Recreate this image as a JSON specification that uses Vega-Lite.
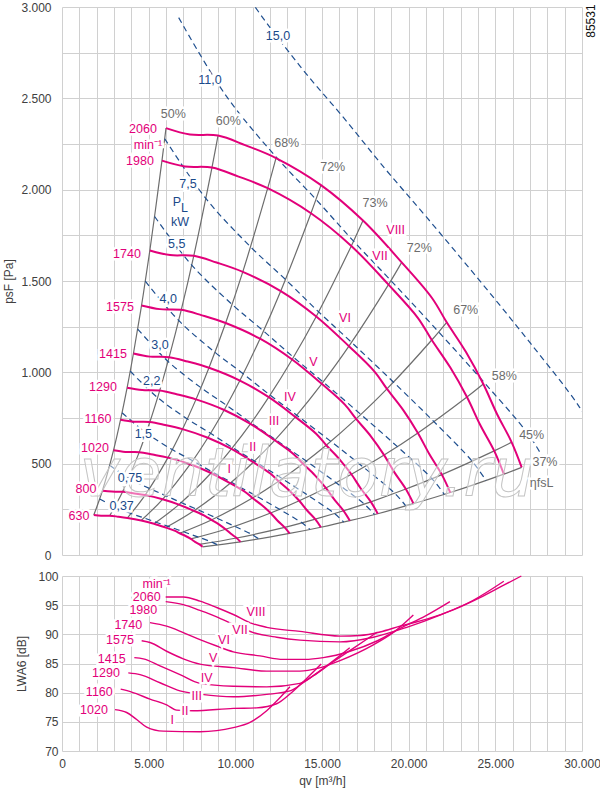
{
  "$schema": "https://vega.github.io/schema/vega-lite/v6.json",
  "padding": {"left": 2, "top": 1, "right": 0, "bottom": 10},
  "bounds": "flush",
  "spacing": 21,
  "config": {
    "font": "Liberation Sans",
    "view": {"stroke": null},
    "axis": {
      "gridColor": "#d0d0d0", "gridWidth": 1, "domain": false, "ticks": false,
      "labelColor": "#404040", "titleColor": "#404040", "labelFontSize": 12,
      "titleFontSize": 12, "titleFontWeight": "normal", "labelFlush": false, "labelOverlap": false
    }
  },
  "datasets": {
    "curves": [
      {"n":2060,"k":1,"q":6000,"p":2337},{"n":2060,"k":2,"q":7385,"p":2302},{"n":2060,"k":3,"q":9000,"p":2296},{"n":2060,"k":4,"q":10558,"p":2244},{"n":2060,"k":5,"q":12346,"p":2173},{"n":2060,"k":6,"q":14942,"p":2025},{"n":2060,"k":7,"q":17365,"p":1831},{"n":2060,"k":8,"q":19597,"p":1602},{"n":2060,"k":9,"q":21345,"p":1407},{"n":2060,"k":10,"q":22194,"p":1274},{"n":2060,"k":11,"q":23307,"p":1111},{"n":2060,"k":12,"q":24306,"p":936},{"n":2060,"k":13,"q":25096,"p":772},{"n":2060,"k":14,"q":25943,"p":617},{"n":2060,"k":15,"q":26520,"p":480},
      {"n":1980,"k":1,"q":5767,"p":2159},{"n":1980,"k":2,"q":7098,"p":2127},{"n":1980,"k":3,"q":8651,"p":2121},{"n":1980,"k":4,"q":10148,"p":2073},{"n":1980,"k":5,"q":11867,"p":2008},{"n":1980,"k":6,"q":14362,"p":1871},{"n":1980,"k":7,"q":16691,"p":1692},{"n":1980,"k":8,"q":18837,"p":1480},{"n":1980,"k":9,"q":20517,"p":1300},{"n":1980,"k":10,"q":21333,"p":1177},{"n":1980,"k":11,"q":22403,"p":1026},{"n":1980,"k":12,"q":23363,"p":865},{"n":1980,"k":13,"q":24122,"p":713},{"n":1980,"k":14,"q":24936,"p":570},{"n":1980,"k":15,"q":25491,"p":443},
      {"n":1740,"k":1,"q":5068,"p":1667},{"n":1740,"k":2,"q":6238,"p":1642},{"n":1740,"k":3,"q":7602,"p":1638},{"n":1740,"k":4,"q":8918,"p":1601},{"n":1740,"k":5,"q":10429,"p":1550},{"n":1740,"k":6,"q":12621,"p":1445},{"n":1740,"k":7,"q":14668,"p":1306},{"n":1740,"k":8,"q":16554,"p":1143},{"n":1740,"k":9,"q":18030,"p":1004},{"n":1740,"k":10,"q":18747,"p":909},{"n":1740,"k":11,"q":19688,"p":793},{"n":1740,"k":12,"q":20531,"p":668},{"n":1740,"k":13,"q":21199,"p":551},{"n":1740,"k":14,"q":21914,"p":440},{"n":1740,"k":15,"q":22401,"p":342},
      {"n":1575,"k":1,"q":4588,"p":1366},{"n":1575,"k":2,"q":5647,"p":1346},{"n":1575,"k":3,"q":6881,"p":1342},{"n":1575,"k":4,"q":8073,"p":1312},{"n":1575,"k":5,"q":9440,"p":1270},{"n":1575,"k":6,"q":11425,"p":1184},{"n":1575,"k":7,"q":13277,"p":1070},{"n":1575,"k":8,"q":14984,"p":937},{"n":1575,"k":9,"q":16320,"p":823},{"n":1575,"k":10,"q":16970,"p":745},{"n":1575,"k":11,"q":17821,"p":650},{"n":1575,"k":12,"q":18584,"p":547},{"n":1575,"k":13,"q":19188,"p":451},{"n":1575,"k":14,"q":19836,"p":361},{"n":1575,"k":15,"q":20277,"p":281},
      {"n":1415,"k":1,"q":4121,"p":1103},{"n":1415,"k":2,"q":5073,"p":1086},{"n":1415,"k":3,"q":6182,"p":1083},{"n":1415,"k":4,"q":7252,"p":1059},{"n":1415,"k":5,"q":8480,"p":1025},{"n":1415,"k":6,"q":10264,"p":955},{"n":1415,"k":7,"q":11928,"p":864},{"n":1415,"k":8,"q":13461,"p":756},{"n":1415,"k":9,"q":14662,"p":664},{"n":1415,"k":10,"q":15245,"p":601},{"n":1415,"k":11,"q":16010,"p":524},{"n":1415,"k":12,"q":16696,"p":442},{"n":1415,"k":13,"q":17238,"p":364},{"n":1415,"k":14,"q":17820,"p":291},{"n":1415,"k":15,"q":18217,"p":226},
      {"n":1290,"k":1,"q":3757,"p":916},{"n":1290,"k":2,"q":4624,"p":903},{"n":1290,"k":3,"q":5636,"p":900},{"n":1290,"k":4,"q":6611,"p":880},{"n":1290,"k":5,"q":7731,"p":852},{"n":1290,"k":6,"q":9357,"p":794},{"n":1290,"k":7,"q":10874,"p":718},{"n":1290,"k":8,"q":12272,"p":628},{"n":1290,"k":9,"q":13366,"p":552},{"n":1290,"k":10,"q":13898,"p":500},{"n":1290,"k":11,"q":14595,"p":436},{"n":1290,"k":12,"q":15220,"p":367},{"n":1290,"k":13,"q":15715,"p":303},{"n":1290,"k":14,"q":16246,"p":242},{"n":1290,"k":15,"q":16607,"p":188},
      {"n":1160,"k":1,"q":3379,"p":741},{"n":1160,"k":2,"q":4158,"p":730},{"n":1160,"k":3,"q":5068,"p":728},{"n":1160,"k":4,"q":5945,"p":712},{"n":1160,"k":5,"q":6952,"p":689},{"n":1160,"k":6,"q":8414,"p":642},{"n":1160,"k":7,"q":9778,"p":581},{"n":1160,"k":8,"q":11035,"p":508},{"n":1160,"k":9,"q":12019,"p":446},{"n":1160,"k":10,"q":12497,"p":404},{"n":1160,"k":11,"q":13124,"p":352},{"n":1160,"k":12,"q":13687,"p":297},{"n":1160,"k":13,"q":14132,"p":245},{"n":1160,"k":14,"q":14609,"p":196},{"n":1160,"k":15,"q":14933,"p":152},
      {"n":1020,"k":1,"q":2971,"p":573},{"n":1020,"k":2,"q":3656,"p":564},{"n":1020,"k":3,"q":4456,"p":563},{"n":1020,"k":4,"q":5227,"p":550},{"n":1020,"k":5,"q":6113,"p":533},{"n":1020,"k":6,"q":7398,"p":497},{"n":1020,"k":7,"q":8597,"p":449},{"n":1020,"k":8,"q":9703,"p":393},{"n":1020,"k":9,"q":10568,"p":345},{"n":1020,"k":10,"q":10988,"p":312},{"n":1020,"k":11,"q":11539,"p":272},{"n":1020,"k":12,"q":12034,"p":230},{"n":1020,"k":13,"q":12425,"p":189},{"n":1020,"k":14,"q":12844,"p":151},{"n":1020,"k":15,"q":13130,"p":118},
      {"n":800,"k":1,"q":2330,"p":352},{"n":800,"k":2,"q":2868,"p":347},{"n":800,"k":3,"q":3495,"p":346},{"n":800,"k":4,"q":4100,"p":338},{"n":800,"k":5,"q":4794,"p":328},{"n":800,"k":6,"q":5802,"p":305},{"n":800,"k":7,"q":6743,"p":276},{"n":800,"k":8,"q":7610,"p":242},{"n":800,"k":9,"q":8288,"p":212},{"n":800,"k":10,"q":8618,"p":192},{"n":800,"k":11,"q":9050,"p":168},{"n":800,"k":12,"q":9438,"p":141},{"n":800,"k":13,"q":9745,"p":116},{"n":800,"k":14,"q":10074,"p":93},{"n":800,"k":15,"q":10298,"p":72},
      {"n":630,"k":1,"q":1835,"p":219},{"n":630,"k":2,"q":2258,"p":215},{"n":630,"k":3,"q":2752,"p":215},{"n":630,"k":4,"q":3229,"p":210},{"n":630,"k":5,"q":3775,"p":203},{"n":630,"k":6,"q":4569,"p":189},{"n":630,"k":7,"q":5310,"p":171},{"n":630,"k":8,"q":5993,"p":150},{"n":630,"k":9,"q":6527,"p":132},{"n":630,"k":10,"q":6787,"p":119},{"n":630,"k":11,"q":7127,"p":104},{"n":630,"k":12,"q":7433,"p":88},{"n":630,"k":13,"q":7674,"p":72},{"n":630,"k":14,"q":7933,"p":58},{"n":630,"k":15,"q":8110,"p":45}
    ],
    "power": [
      {"P":0.37,"q":2173,"p":307},{"P":0.37,"q":3043,"p":263},{"P":0.37,"q":3990,"p":227},{"P":0.37,"q":4729,"p":203},{"P":0.37,"q":5430,"p":179},{"P":0.37,"q":6126,"p":157},{"P":0.37,"q":7013,"p":127},{"P":0.37,"q":7870,"p":98},{"P":0.37,"q":8681,"p":69},{"P":0.37,"q":8972,"p":55},
      {"P":0.75,"q":2750,"p":491},{"P":0.75,"q":3851,"p":420},{"P":0.75,"q":5050,"p":364},{"P":0.75,"q":5984,"p":325},{"P":0.75,"q":6871,"p":287},{"P":0.75,"q":7753,"p":251},{"P":0.75,"q":8878,"p":204},{"P":0.75,"q":9961,"p":157},{"P":0.75,"q":10984,"p":111},{"P":0.75,"q":11353,"p":88},
      {"P":1.5,"q":3465,"p":779},{"P":1.5,"q":4853,"p":668},{"P":1.5,"q":6362,"p":577},{"P":1.5,"q":7540,"p":516},{"P":1.5,"q":8658,"p":455},{"P":1.5,"q":9769,"p":398},{"P":1.5,"q":11186,"p":324},{"P":1.5,"q":12549,"p":250},{"P":1.5,"q":13841,"p":176},{"P":1.5,"q":14302,"p":140},
      {"P":2.2,"q":3937,"p":1006},{"P":2.2,"q":5513,"p":862},{"P":2.2,"q":7229,"p":745},{"P":2.2,"q":8568,"p":666},{"P":2.2,"q":9837,"p":588},{"P":2.2,"q":11100,"p":514},{"P":2.2,"q":12708,"p":418},{"P":2.2,"q":14258,"p":322},{"P":2.2,"q":15724,"p":227},{"P":2.2,"q":16251,"p":180},
      {"P":3.0,"q":4366,"p":1237},{"P":3.0,"q":6114,"p":1060},{"P":3.0,"q":8016,"p":916},{"P":3.0,"q":9502,"p":819},{"P":3.0,"q":10909,"p":723},{"P":3.0,"q":12309,"p":632},{"P":3.0,"q":14093,"p":514},{"P":3.0,"q":15811,"p":396},{"P":3.0,"q":17436,"p":279},{"P":3.0,"q":18023,"p":222},
      {"P":4.0,"q":4805,"p":1499},{"P":4.0,"q":6729,"p":1284},{"P":4.0,"q":8822,"p":1110},{"P":4.0,"q":10456,"p":992},{"P":4.0,"q":12006,"p":875},{"P":4.0,"q":13545,"p":765},{"P":4.0,"q":15509,"p":622},{"P":4.0,"q":17401,"p":480},{"P":4.0,"q":19193,"p":338},{"P":4.0,"q":19834,"p":269},
      {"P":5.5,"q":5343,"p":1853},{"P":5.5,"q":7483,"p":1587},{"P":5.5,"q":9811,"p":1372},{"P":5.5,"q":11628,"p":1226},{"P":5.5,"q":13352,"p":1083},{"P":5.5,"q":15064,"p":947},{"P":5.5,"q":17247,"p":769},{"P":5.5,"q":19350,"p":593},{"P":5.5,"q":21341,"p":418},{"P":5.5,"q":22057,"p":332},
      {"P":7.5,"q":5925,"p":2279},{"P":7.5,"q":8298,"p":1952},{"P":7.5,"q":10879,"p":1687},{"P":7.5,"q":12895,"p":1508},{"P":7.5,"q":14805,"p":1331},{"P":7.5,"q":16705,"p":1164},{"P":7.5,"q":19125,"p":946},{"P":7.5,"q":21457,"p":730},{"P":7.5,"q":23665,"p":513},{"P":7.5,"q":24459,"p":408},
      {"P":11.0,"q":6731,"p":2942},{"P":11.0,"q":9428,"p":2519},{"P":11.0,"q":12361,"p":2178},{"P":11.0,"q":14651,"p":1947},{"P":11.0,"q":16821,"p":1718},{"P":11.0,"q":18978,"p":1502},{"P":11.0,"q":21730,"p":1221},{"P":11.0,"q":24379,"p":942},{"P":11.0,"q":26887,"p":663},{"P":11.0,"q":27790,"p":527},
      {"P":15.0,"q":7465,"p":3617},{"P":15.0,"q":10454,"p":3098},{"P":15.0,"q":13708,"p":2679},{"P":15.0,"q":16246,"p":2394},{"P":15.0,"q":18653,"p":2113},{"P":15.0,"q":21045,"p":1848},{"P":15.0,"q":24096,"p":1502},{"P":15.0,"q":27036,"p":1158},{"P":15.0,"q":29816,"p":815},{"P":15.0,"q":30817,"p":648}
    ],
    "toplabels": [
      {"t":"2060","q":4673,"p":2332,"g":"spd"},{"t":"min⁻¹","q":4961,"p":2244,"g":"spd"},{"t":"1980","q":4500,"p":2157,"g":"spd"},{"t":"1740","q":3750,"p":1648,"g":"spd"},{"t":"1575","q":3346,"p":1358,"g":"spd"},{"t":"1415","q":2942,"p":1100,"g":"spd"},{"t":"1290","q":2365,"p":920,"g":"spd"},{"t":"1160","q":2077,"p":744,"g":"spd"},{"t":"1020","q":1904,"p":586,"g":"spd"},{"t":"800","q":1385,"p":361,"g":"spd"},{"t":"630","q":981,"p":213,"g":"spd"},
      {"t":"50%","q":6421,"p":2414,"g":"eff"},{"t":"60%","q":9594,"p":2377,"g":"eff"},{"t":"68%","q":12963,"p":2255,"g":"eff"},{"t":"72%","q":15617,"p":2126,"g":"eff"},{"t":"73%","q":18057,"p":1925,"g":"eff"},{"t":"72%","q":20613,"p":1679,"g":"eff"},{"t":"67%","q":23290,"p":1341,"g":"eff"},{"t":"58%","q":25516,"p":981,"g":"eff"},{"t":"45%","q":27097,"p":659,"g":"eff"},{"t":"37%","q":27864,"p":507,"g":"eff"},{"t":"ηfsL","q":27674,"p":394,"g":"effs"},
      {"t":"15,0","q":12461,"p":2841,"g":"pow"},{"t":"11,0","q":8538,"p":2600,"g":"pow"},{"t":"7,5","q":7269,"p":2031,"g":"pow"},{"t":"P","q":6634,"p":1932,"g":"pow"},{"t":"L","q":7060,"p":1900,"g":"pows"},{"t":"kW","q":6807,"p":1821,"g":"pow"},{"t":"5,5","q":6615,"p":1702,"g":"pow"},{"t":"4,0","q":6133,"p":1401,"g":"pow"},{"t":"3,0","q":5654,"p":1151,"g":"pow"},{"t":"2,2","q":5175,"p":954,"g":"pow"},{"t":"1,5","q":4692,"p":662,"g":"pow"},{"t":"0,75","q":3923,"p":420,"g":"pow"},{"t":"0,37","q":3442,"p":267,"g":"pow"},
      {"t":"VIII","q":19251,"p":1781,"g":"spd"},{"t":"VII","q":18346,"p":1635,"g":"spd"},{"t":"VI","q":16326,"p":1296,"g":"spd"},{"t":"V","q":14498,"p":1055,"g":"spd"},{"t":"IV","q":13153,"p":863,"g":"spd"},{"t":"III","q":12230,"p":735,"g":"spd"},{"t":"II","q":11001,"p":590,"g":"spd"},{"t":"I","q":9652,"p":471,"g":"spd"}
    ],
    "noise": [
      {"n":2060,"q":5982,"L":96.4},{"n":2060,"q":6998,"L":96.4},{"n":2060,"q":7961,"L":95.7},{"n":2060,"q":8925,"L":94.6},{"n":2060,"q":9883,"L":93.4},{"n":2060,"q":11036,"L":91.8},{"n":2060,"q":11809,"L":91.2},{"n":2060,"q":13731,"L":90.5},{"n":2060,"q":16038,"L":89.7},{"n":2060,"q":17192,"L":89.8},{"n":2060,"q":18346,"L":90.4},{"n":2060,"q":19499,"L":91.4},{"n":2060,"q":21040,"L":92.6},{"n":2060,"q":22574,"L":94.2},{"n":2060,"q":24114,"L":96.3},{"n":2060,"q":25400,"L":98.3},{"n":2060,"q":26500,"L":100},
      {"n":1980,"q":5982,"L":95.6},{"n":1980,"q":6998,"L":95.1},{"n":1980,"q":7961,"L":94.1},{"n":1980,"q":8925,"L":93.0},{"n":1980,"q":9883,"L":91.7},{"n":1980,"q":11036,"L":90.3},{"n":1980,"q":12385,"L":89.5},{"n":1980,"q":13731,"L":89.0},{"n":1980,"q":16038,"L":88.7},{"n":1980,"q":17960,"L":89.5},{"n":1980,"q":19887,"L":91.2},{"n":1980,"q":21807,"L":93.3},{"n":1980,"q":23700,"L":95.8},{"n":1980,"q":25490,"L":99.1},
      {"n":1740,"q":5077,"L":92.0},{"n":1740,"q":6037,"L":91.4},{"n":1740,"q":6998,"L":90.3},{"n":1740,"q":7961,"L":89.1},{"n":1740,"q":8925,"L":88.0},{"n":1740,"q":9883,"L":87.0},{"n":1740,"q":11422,"L":86.3},{"n":1740,"q":12769,"L":85.7},{"n":1740,"q":14000,"L":85.7},{"n":1740,"q":15075,"L":86.0},{"n":1740,"q":16615,"L":87.1},{"n":1740,"q":18200,"L":88.9},{"n":1740,"q":19499,"L":91.0},{"n":1740,"q":21000,"L":93.2},{"n":1740,"q":22380,"L":95.6},
      {"n":1575,"q":4596,"L":88.9},{"n":1575,"q":5077,"L":88.6},{"n":1575,"q":6037,"L":87.1},{"n":1575,"q":6998,"L":85.8},{"n":1575,"q":7961,"L":84.9},{"n":1575,"q":9883,"L":84.3},{"n":1575,"q":11809,"L":83.7},{"n":1575,"q":13731,"L":83.7},{"n":1575,"q":14800,"L":84.2},{"n":1575,"q":16038,"L":85.5},{"n":1575,"q":17960,"L":88.2},{"n":1575,"q":19200,"L":90.5},{"n":1575,"q":20270,"L":93.3},
      {"n":1415,"q":4173,"L":86.0},{"n":1415,"q":4692,"L":85.8},{"n":1415,"q":5654,"L":84.6},{"n":1415,"q":6807,"L":83.1},{"n":1415,"q":7961,"L":81.6},{"n":1415,"q":9883,"L":81.1},{"n":1415,"q":11809,"L":81.0},{"n":1415,"q":13731,"L":81.6},{"n":1415,"q":14500,"L":82.9},{"n":1415,"q":15500,"L":85.0},{"n":1415,"q":16800,"L":87.6},{"n":1415,"q":18200,"L":90.4},
      {"n":1290,"q":3825,"L":83.4},{"n":1290,"q":4500,"L":83.1},{"n":1290,"q":5654,"L":81.7},{"n":1290,"q":6807,"L":80.3},{"n":1290,"q":8059,"L":79.7},{"n":1290,"q":9883,"L":79.3},{"n":1290,"q":11809,"L":79.7},{"n":1290,"q":13153,"L":80.3},{"n":1290,"q":14000,"L":81.9},{"n":1290,"q":15000,"L":84.0},{"n":1290,"q":15800,"L":85.8},{"n":1290,"q":16600,"L":87.7},
      {"n":1160,"q":3385,"L":80.6},{"n":1160,"q":4021,"L":80.1},{"n":1160,"q":5077,"L":78.9},{"n":1160,"q":6037,"L":77.9},{"n":1160,"q":6614,"L":77.0},{"n":1160,"q":7575,"L":76.9},{"n":1160,"q":9883,"L":77.3},{"n":1160,"q":11228,"L":77.4},{"n":1160,"q":12385,"L":78.1},{"n":1160,"q":13200,"L":79.9},{"n":1160,"q":14100,"L":82.4},{"n":1160,"q":14950,"L":84.9},
      {"n":1020,"q":3058,"L":77.1},{"n":1020,"q":3731,"L":76.6},{"n":1020,"q":4308,"L":75.4},{"n":1020,"q":4886,"L":74.1},{"n":1020,"q":5845,"L":73.4},{"n":1020,"q":7961,"L":73.3},{"n":1020,"q":9883,"L":74.0},{"n":1020,"q":10846,"L":74.9},{"n":1020,"q":11809,"L":76.9},{"n":1020,"q":12500,"L":78.9},{"n":1020,"q":13150,"L":81.0}
    ],
    "botlabels": [
      {"t":"min⁻¹","q":5459,"L":98.6},{"t":"2060","q":4886,"L":96.4},{"t":"1980","q":4690,"L":94.1},{"t":"1740","q":3825,"L":91.6},{"t":"1575","q":3346,"L":89.0},{"t":"1415","q":2867,"L":85.7},{"t":"1290","q":2538,"L":83.3},{"t":"1160","q":2152,"L":80.2},{"t":"1020","q":1846,"L":77.0},
      {"t":"VIII","q":11192,"L":93.8},{"t":"VII","q":10269,"L":90.7},{"t":"VI","q":9346,"L":89.1},{"t":"V","q":8728,"L":86.0},{"t":"IV","q":8348,"L":82.6},{"t":"III","q":7771,"L":79.4},{"t":"II","q":7096,"L":76.9},{"t":"I","q":6363,"L":75.3}
    ]
  },
  "vconcat": [
    {
      "width": 520,
      "height": 548,
      "encoding": {
        "x": {
          "field": "q", "type": "quantitative",
          "scale": {"domain": [0, 30000], "nice": false, "zero": false},
          "axis": {
            "values": [0,1000,2000,3000,4000,5000,6000,7000,8000,9000,10000,11000,12000,13000,14000,15000,16000,17000,18000,19000,20000,21000,22000,23000,24000,25000,26000,27000,28000,29000,30000],
            "labels": false, "title": null
          }
        },
        "y": {
          "field": "p", "type": "quantitative",
          "scale": {"domain": [0, 3000], "nice": false, "zero": false},
          "axis": {
            "values": [0,250,500,750,1000,1250,1500,1750,2000,2250,2500,2750,3000],
            "labelExpr": "datum.value % 500 === 0 ? replace(format(datum.value, ','), ',', '.') : ''",
            "labelPadding": 11, "title": "psF [Pa]", "titlePadding": 5
          }
        }
      },
      "layer": [
        {
          "data": {"name": "curves"},
          "transform": [{"filter": {"field": "k", "oneOf": [1,3,5,6,7,8,10,12,14,15]}}],
          "mark": {"type": "line", "color": "#6d6d6d", "strokeWidth": 1.2, "interpolate": "catmull-rom"},
          "encoding": {"detail": {"field": "k", "type": "nominal"}}
        },
        {
          "data": {"name": "power"},
          "mark": {"type": "line", "color": "#1f4f8f", "strokeWidth": 1.2, "strokeDash": [6, 4], "interpolate": "catmull-rom", "clip": true},
          "encoding": {"detail": {"field": "P", "type": "nominal"}}
        },
        {
          "data": {"name": "curves"},
          "mark": {"type": "line", "color": "#e2007a", "strokeWidth": 2, "interpolate": "catmull-rom"},
          "encoding": {"detail": {"field": "n", "type": "nominal"}}
        },
        {
          "data": {"values": [{"q": 14134, "p": 430}]},
          "mark": {"type": "text", "text": "ventilatory.ru", "font": "DejaVu Sans", "fontSize": 68, "fontStyle": "italic", "fill": "#ffffff", "fillOpacity": 0.45, "stroke": "#c4c4c4", "strokeWidth": 1, "baseline": "middle", "align": "center"}
        },
        {
          "data": {"name": "toplabels"},
          "mark": {"type": "text", "stroke": "#ffffff", "strokeWidth": 5, "fill": "#ffffff", "baseline": "middle", "align": "center"},
          "encoding": {
            "text": {"field": "t"},
            "size": {"field": "g", "type": "nominal", "scale": {"domain": ["spd","eff","effs","pow","pows"], "range": [12.5,12.5,9,12.5,8]}, "legend": null}
          }
        },
        {
          "data": {"name": "toplabels"},
          "mark": {"type": "text", "baseline": "middle", "align": "center"},
          "encoding": {
            "text": {"field": "t"},
            "color": {"field": "g", "type": "nominal", "scale": {"domain": ["spd","eff","effs","pow","pows"], "range": ["#e2007a","#6d6d6d","#6d6d6d","#1a4a8a","#1a4a8a"]}, "legend": null},
            "size": {"field": "g", "type": "nominal", "scale": {"domain": ["spd","eff","effs","pow","pows"], "range": [12.5,12.5,9,12.5,8]}, "legend": null}
          }
        },
        {
          "data": {"values": [{"t": "85531", "q": 30518, "p": 2923}]},
          "mark": {"type": "text", "angle": 270, "fontSize": 12, "color": "#111111", "baseline": "middle", "align": "center"},
          "encoding": {"text": {"field": "t"}}
        }
      ]
    },
    {
      "width": 520,
      "height": 175,
      "encoding": {
        "x": {
          "field": "q", "type": "quantitative",
          "scale": {"domain": [0, 30000], "nice": false, "zero": false},
          "axis": {
            "values": [0,1000,2000,3000,4000,5000,6000,7000,8000,9000,10000,11000,12000,13000,14000,15000,16000,17000,18000,19000,20000,21000,22000,23000,24000,25000,26000,27000,28000,29000,30000],
            "labelExpr": "datum.value % 5000 === 0 ? replace(format(datum.value, ','), ',', '.') : ''",
            "labelPadding": 7, "title": "qv [m³/h]", "titlePadding": 6
          }
        },
        "y": {
          "field": "L", "type": "quantitative",
          "scale": {"domain": [70, 100], "nice": false, "zero": false},
          "axis": {"values": [70,75,80,85,90,95,100], "labelPadding": 4, "title": "LWA6 [dB]", "titlePadding": 9}
        }
      },
      "layer": [
        {
          "data": {"name": "noise"},
          "mark": {"type": "line", "color": "#e2007a", "strokeWidth": 1.4, "interpolate": "monotone"},
          "encoding": {"detail": {"field": "n", "type": "nominal"}}
        },
        {
          "data": {"name": "botlabels"},
          "mark": {"type": "text", "stroke": "#ffffff", "strokeWidth": 5, "fill": "#ffffff", "fontSize": 12.5, "baseline": "middle", "align": "center"},
          "encoding": {"text": {"field": "t"}}
        },
        {
          "data": {"name": "botlabels"},
          "mark": {"type": "text", "color": "#e2007a", "fontSize": 12.5, "baseline": "middle", "align": "center"},
          "encoding": {"text": {"field": "t"}}
        }
      ]
    }
  ]
}
